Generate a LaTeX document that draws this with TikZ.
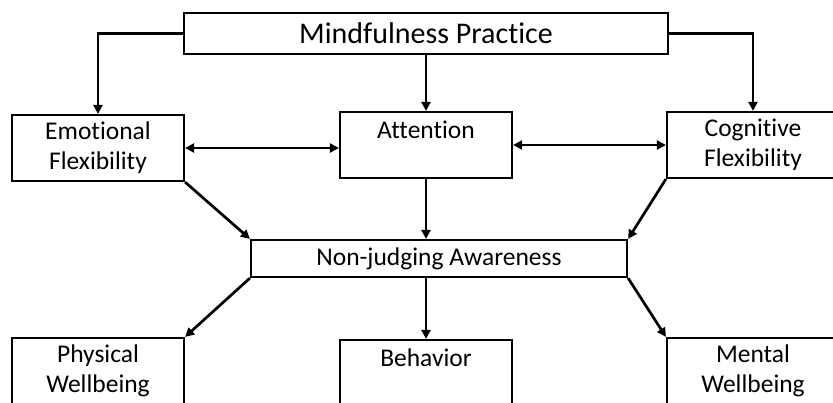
\documentclass[tikz,border=0pt]{standalone}
\usepackage{fontspec}
\setmainfont[Ligatures=NoCommon]{Carlito}
\usetikzlibrary{arrows.meta}

\begin{document}
\begin{tikzpicture}[x=1pt, y=-1pt,
        box/.style={draw, line width=2.2pt, minimum width=172pt, minimum height=66pt, inner sep=0pt, align=center, font=\fontsize{25.5}{30}\selectfont},
        link/.style={line width=2.7pt, -{Triangle[length=9pt,width=9pt]}},
        both/.style={line width=2.7pt, {Triangle[length=9pt,width=9pt]}-{Triangle[length=9pt,width=9pt]}}]
    \useasboundingbox (0,0) rectangle (833,402);
    \clip (0,0) rectangle (833,402);
        \node[box, minimum width=484pt, minimum height=41pt, font=\fontsize{30}{36}\selectfont] (mp) at (426,33.5) {Mindfulness Practice};
        \node[box] (ef) at (98,148) {Emotional\\Flexibility};
        \node[box] (att) at (426,145) {Attention\\~};
        \node[box] (cf) at (753,145) {Cognitive\\Flexibility};
        \node[box, minimum width=376pt, minimum height=37pt] (nja) at (439,258.5) {Non-judging Awareness};
        \node[box] (pw) at (98,371) {Physical\\Wellbeing};
        \node[box] (bh) at (426,373) {Behavior\\~};
        \node[box] (mw) at (753,371) {Mental\\Wellbeing};
        \draw[link] (mp.west) -| (ef.north);
        \draw[link] (mp.east) -| (cf.north);
        \draw[link] (mp.south) -- (att.north);
        \draw[both] (ef.east) -- (ef.east -| att.west);
        \draw[both] (att.east) -- (cf.west);
        \draw[link] (att.south) -- (att.south |- nja.north);
        \draw[link] (ef.south east) -- (nja.north west);
        \draw[link] (cf.south west) -- (nja.north east);
        \draw[link] (nja.south west) -- (pw.north east);
        \draw[link] (bh.north |- nja.south) -- (bh.north);
        \draw[link] (nja.south east) -- (mw.north west);
    \end{tikzpicture}
\end{document}
